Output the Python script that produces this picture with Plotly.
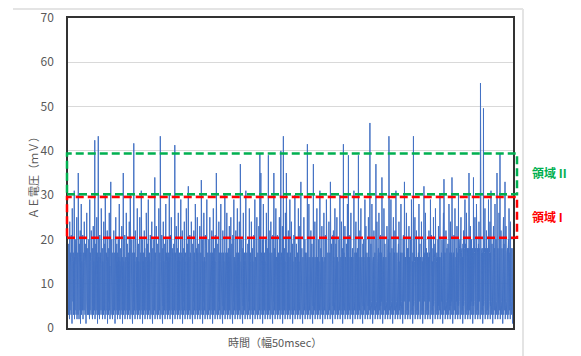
import plotly.graph_objects as go

# AE voltage samples (mV) (time axis has no labels)
ae_mv = [
    5,16, 3,19, 6,15, 2,24, 4,17, 6,14, 3,21, 5,16, 1,27, 4,15,
    6,17, 3,15, 5,31, 2,16, 4,20, 6,14, 3,18, 5,25, 2,15, 4,17,
    3,35, 5,16, 2,19, 6,14, 4,22, 1,17, 5,28, 3,15, 6,18, 4,21,
    2,15, 5,17, 4,24, 6,15, 3,19, 5,14, 1,16, 4,26, 6,15, 3,18,
    5,16, 3,20, 6,14, 2,29, 4,17, 5,15, 3,22, 6,16, 4,14, 2,18,
    5,23, 3,15, 6,17, 4,42.4, 2,14, 5,19, 3,16, 6,25, 4,17, 1,15,
    5,43.3, 3,16, 6,15, 2,21, 4,17, 5,14, 3,27, 6,16, 4,18, 2,15,
    5,16, 3,24, 6,15, 4,19, 2,30, 5,16, 3,17, 6,15, 4,22, 1,16,
    5,15, 3,18, 6,26, 4,14, 2,17, 5,33, 3,16, 6,20, 4,15, 2,17,
    5,16, 3,22, 6,14, 4,17, 1,15, 5,25, 3,16, 6,19, 4,17, 2,15,
    5,20, 3,16, 6,28, 4,15, 2,17, 5,18, 3,15, 6,23, 4,16, 1,14,
    5,35, 3,15, 6,17, 4,21, 2,15, 5,16, 3,26, 6,15, 4,19, 2,16,
    5,17, 3,15, 6,24, 4,18, 2,30, 5,16, 3,14, 6,20, 4,16, 1,17,
    5,15, 3,41.7, 6,17, 4,15, 2,22, 5,18, 3,15, 6,16, 4,27, 2,15,
    5,19, 3,15, 6,16, 4,25, 2,15, 5,17, 3,31, 6,16, 4,20, 1,15,
    5,17, 3,15, 6,22, 4,18, 2,14, 5,16, 3,26, 6,15, 4,19, 2,15,
    5,29, 3,16, 6,17, 4,15, 2,21, 5,17, 3,15, 6,24, 4,16, 1,18,
    5,15, 3,20, 6,16, 4,34, 2,17, 5,15, 3,23, 6,16, 4,14, 2,19,
    5,16, 3,27, 6,15, 4,17, 2,43.3, 5,15, 3,17, 6,21, 4,16, 1,18,
    5,24, 3,15, 6,16, 4,19, 2,15, 5,28, 3,17, 6,15, 4,20, 2,16,
    5,17, 3,15, 6,30, 4,16, 2,21, 5,14, 3,25, 6,16, 4,18, 1,17,
    5,15, 3,19, 6,16, 4,41.3, 2,17, 5,15, 3,23, 6,16, 4,18, 2,15,
    5,26, 3,16, 6,17, 4,15, 2,20, 5,29, 3,15, 6,17, 4,22, 1,16,
    5,15, 3,18, 6,24, 4,15, 2,17, 5,16, 3,27, 6,16, 4,19, 2,15,
    5,32, 3,16, 6,15, 4,21, 2,17, 5,15, 3,24, 6,17, 4,16, 1,19,
    5,16, 3,22, 6,17, 4,15, 2,28, 5,16, 3,18, 6,15, 4,25, 2,17,
    5,15, 3,19, 6,16, 4,23, 2,15, 5,17, 3,33.4, 6,16, 4,20, 1,15,
    5,17, 3,26, 6,16, 4,15, 2,21, 5,18, 3,15, 6,29, 4,16, 2,17,
    5,15, 3,20, 6,17, 4,25, 2,15, 5,17, 3,16, 6,22, 4,17, 1,15,
    5,27, 3,16, 6,18, 4,15, 2,21, 5,17, 3,35, 6,15, 4,16, 2,19,
    5,15, 3,24, 6,17, 4,15, 2,19, 5,28, 3,16, 6,17, 4,15, 1,22,
    5,17, 3,15, 6,20, 4,30, 2,16, 5,17, 3,15, 6,26, 4,17, 2,15,
    5,18, 3,16, 6,23, 4,15, 2,17, 5,25, 3,15, 6,19, 4,16, 1,21,
    5,15, 3,29, 6,16, 4,15, 2,18, 5,22, 3,16, 6,17, 4,27, 2,15,
    5,17, 3,16, 6,24, 4,15, 2,37, 5,17, 3,15, 6,20, 4,16, 1,18,
    5,26, 3,15, 6,17, 4,15, 2,22, 5,31, 3,16, 6,17, 4,15, 2,19,
    5,16, 3,20, 6,27, 4,15, 2,17, 5,15, 3,24, 6,16, 4,18, 1,15,
    5,17, 3,21, 6,15, 4,29, 2,16, 5,15, 3,18, 6,25, 4,16, 2,17,
    5,15, 3,23, 6,16, 4,39.3, 2,15, 5,35, 3,17, 6,16, 4,20, 1,15,
    5,28, 3,16, 6,17, 4,15, 2,20, 5,16, 3,26, 6,15, 4,18, 2,15,
    5,39, 3,17, 6,15, 4,22, 2,16, 5,24, 3,15, 6,17, 4,16, 1,21,
    5,15, 3,35, 6,18, 4,15, 2,17, 5,27, 3,16, 6,15, 4,21, 2,16,
    5,17, 3,15, 6,25, 4,16, 2,15, 5,40, 3,17, 6,15, 4,23, 1,16,
    5,43.3, 3,16, 6,18, 4,15, 2,26, 5,16, 3,35, 6,15, 4,17, 2,15,
    5,22, 3,16, 6,15, 4,29, 2,17, 5,15, 3,24, 6,16, 4,19, 1,15,
    5,17, 3,21, 6,15, 4,30, 2,16, 5,15, 3,19, 6,15, 4,17, 2,16,
    5,27, 3,15, 6,17, 4,23, 2,15, 5,33, 3,16, 6,18, 4,15, 1,16,
    5,16, 3,25, 6,15, 4,20, 2,17, 5,15, 3,16, 6,17, 4,41.5, 2,16,
    5,17, 3,28, 6,15, 4,16, 2,15, 5,22, 3,17, 6,19, 4,15, 1,16,
    5,37, 3,16, 6,17, 4,24, 2,15, 5,16, 3,18, 6,27, 4,16, 2,15,
    5,20, 3,15, 6,16, 4,31, 2,17, 5,18, 3,15, 6,23, 4,16, 1,15,
    5,16, 3,26, 6,15, 4,16, 2,21, 5,17, 3,29, 6,16, 4,15, 2,17,
    5,18, 3,24, 6,16, 4,17, 2,33, 5,15, 3,19, 6,16, 4,15, 1,21,
    5,22, 3,16, 6,15, 4,27, 2,17, 5,19, 3,15, 6,25, 4,16, 2,15,
    5,15, 3,20, 6,17, 4,30, 2,15, 5,16, 3,24, 6,15, 4,18, 1,16,
    5,41.5, 3,17, 6,15, 4,23, 2,16, 5,15, 3,19, 6,16, 4,28, 2,17,
    5,39, 3,16, 6,17, 4,21, 2,15, 5,26, 3,16, 6,15, 4,18, 1,16,
    5,19, 3,31, 6,15, 4,17, 2,15, 5,24, 3,17, 6,16, 4,18, 2,15,
    5,39, 3,16, 6,15, 4,22, 2,17, 5,27, 3,15, 6,16, 4,15, 1,19,
    5,20, 3,16, 6,17, 4,29, 2,15, 5,23, 3,16, 6,17, 4,15, 2,16,
    5,25, 3,15, 6,16, 4,46.3, 2,17, 5,19, 3,15, 6,28, 4,16, 1,15,
    5,16, 3,22, 6,17, 4,17, 2,15, 5,37, 3,17, 6,24, 4,16, 2,15,
    5,18, 3,26, 6,15, 4,17, 2,21, 5,15, 3,17, 6,34, 4,16, 1,15,
    5,16, 3,27, 6,15, 4,19, 2,17, 5,16, 3,15, 6,23, 4,17, 2,17,
    5,20, 3,43.3, 6,16, 4,17, 2,15, 5,29, 3,16, 6,18, 4,15, 1,16,
    5,25, 3,16, 6,17, 4,22, 2,15, 5,31, 3,17, 6,17, 4,16, 2,15,
    5,19, 3,24, 6,16, 4,15, 2,17, 5,28, 3,15, 6,17, 4,16, 1,20,
    5,21, 3,17, 6,33, 4,15, 2,16, 5,15, 3,26, 6,16, 4,18, 2,15,
    5,18, 3,23, 6,16, 4,15, 2,20, 5,17, 3,29, 6,16, 4,15, 1,17,
    5,43.3, 3,17, 6,15, 4,25, 2,16, 5,15, 3,22, 6,17, 4,16, 2,15,
    5,17, 3,28, 6,16, 4,19, 2,16, 5,15, 3,24, 6,17, 4,15, 1,16,
    5,20, 3,32, 6,16, 4,17, 2,26, 5,15, 3,18, 6,16, 4,17, 2,16,
    5,16, 3,22, 6,17, 4,16, 2,29, 5,15, 3,21, 6,17, 4,15, 1,18,
    5,25, 3,17, 6,16, 4,19, 2,27, 5,16, 3,15, 6,17, 4,16, 2,20,
    5,23, 3,18, 6,16, 4,30, 2,17, 5,16, 3,17, 6,20, 4,15, 1,17,
    5,26, 3,33.6, 6,17, 4,17, 2,16, 5,22, 3,16, 6,18, 4,15, 2,19,
    5,19, 3,28, 6,16, 4,17, 2,24, 5,16, 3,17, 6,34, 4,17, 1,16,
    5,17, 3,21, 6,16, 4,27, 2,17, 5,16, 3,18, 6,23, 4,16, 2,17,
    5,30, 3,17, 6,18, 4,20, 2,16, 5,25, 3,17, 6,18, 4,16, 1,19,
    5,22, 3,17, 6,18, 4,29, 2,19, 5,16, 3,26, 6,17, 4,18, 2,17,
    5,18, 3,35, 6,17, 4,18, 2,23, 5,18, 3,20, 6,17, 4,18, 1,17,
    5,34, 3,18, 6,17, 4,25, 2,18, 5,17, 3,28, 6,18, 4,18, 2,17,
    5,19, 3,24, 6,18, 4,17, 2,55.3, 5,21, 3,17, 6,18, 4,17, 1,18,
    5,49.6, 3,18, 6,17, 4,27, 2,18, 5,17, 3,22, 6,17, 4,18, 2,17,
    5,29, 3,18, 6,17, 4,24, 2,17, 5,31, 3,18, 6,19, 4,17, 1,18,
    5,23, 3,17, 6,18, 4,28, 2,18, 5,20, 3,17, 6,35, 4,18, 2,18,
    5,18, 3,26, 6,17, 4,39.3, 2,18, 5,22, 3,17, 6,18, 4,18, 1,19,
    5,25, 3,19, 6,17, 4,33, 2,18, 5,23, 3,18, 6,17, 4,18, 2,17,
    5,20, 3,27, 6,18, 4,17, 2,24, 5,18, 3,17, 6,18, 4,17, 1,18,
]
sample_index = list(range(len(ae_mv)))

y_ticks = [0, 10, 20, 30, 40, 50, 60, 70]
Y_MAX = 70

# Highlighted voltage bands (mV)
region_names = ["領域 I", "領域 II"]
region_low = [20.4, 30.2]
region_high = [29.6, 39.4]
region_colors = ["#FF0000", "#00B050"]

fig = go.Figure()
fig.add_trace(go.Scatter(
    x=sample_index, y=ae_mv, mode="lines",
    line=dict(color="#4472C4", width=1),
    hoverinfo="skip", showlegend=False,
))

# page body has an 8px margin; figure sized so the page fits the window
OFF = 8
W, H = 581 - OFF, 356 - OFF
PL, PT, PR, PB = 68, 18, 513, 328          # plot-area edges in window pixels
L, T = PL - OFF, PT - OFF
R, B = W - (PR - OFF), H - (PB - OFF)
pw, ph = PR - PL, PB - PT

def px(xp):
    return (xp - PL) / pw

def py(yp):
    return (PB - yp) / ph

shapes = []
for lo, hi, col in zip(region_low, region_high, region_colors):
    shapes.append(dict(
        type="rect", xref="paper", yref="paper",
        x0=px(67), x1=px(517), y0=lo / Y_MAX, y1=hi / Y_MAX,
        line=dict(color=col, width=2.5, dash="8px,4px"),
        fillcolor="rgba(0,0,0,0)", layer="above",
    ))
# faint outer chart-area frame (top and right edges)
shapes.append(dict(type="line", xref="paper", yref="paper",
                   x0=px(13), x1=px(523), y0=py(9), y1=py(9),
                   line=dict(color="#e4e4e4", width=2)))
shapes.append(dict(type="line", xref="paper", yref="paper",
                   x0=px(523), x1=px(523), y0=py(9), y1=py(360),
                   line=dict(color="#e4e4e4", width=2)))

label_y_px = [217, 172]
annotations = []
for name, col, yp in zip(region_names, region_colors, label_y_px):
    annotations.append(dict(
        text="<b>" + name + "</b>", xref="paper", yref="paper",
        x=px(530), y=py(yp), xanchor="left", yanchor="middle",
        showarrow=False, font=dict(color=col, size=12),
    ))
annotations.append(dict(
    text="ＡＥ電圧（ｍＶ）", xref="paper", yref="paper",
    x=px(33), y=py(175), xanchor="center", yanchor="middle",
    textangle=-90, showarrow=False, font=dict(color="#595959", size=11),
))
annotations.append(dict(
    text="時間（幅50msec）", xref="paper", yref="paper",
    x=px(275), y=py(342), xanchor="center", yanchor="middle",
    showarrow=False, font=dict(color="#595959", size=11),
))

fig.update_layout(
    width=W, height=H,
    margin=dict(l=L, r=R, t=T, b=B, pad=0, autoexpand=False),
    paper_bgcolor="white", plot_bgcolor="white",
    font=dict(family="Noto Sans CJK JP, Noto Sans, sans-serif", color="#595959"),
    shapes=shapes, annotations=annotations,
    showlegend=False,
)
fig.update_xaxes(
    range=[sample_index[0], sample_index[-1]], automargin=False,
    showticklabels=False, showgrid=False, zeroline=False,
    showline=True, mirror=True, linecolor="#333333", linewidth=1.5,
)
fig.update_yaxes(
    range=[0, Y_MAX], tickvals=y_ticks, ticktext=[str(v) for v in y_ticks],
    automargin=False,
    showgrid=True, gridcolor="#d9d9d9", gridwidth=1, zeroline=False,
    showline=True, mirror=True, linecolor="#333333", linewidth=1.5,
    ticks="", ticklabelstandoff=10,
    tickfont=dict(size=12, color="#595959"),
)

fig.write_html("out.html")
